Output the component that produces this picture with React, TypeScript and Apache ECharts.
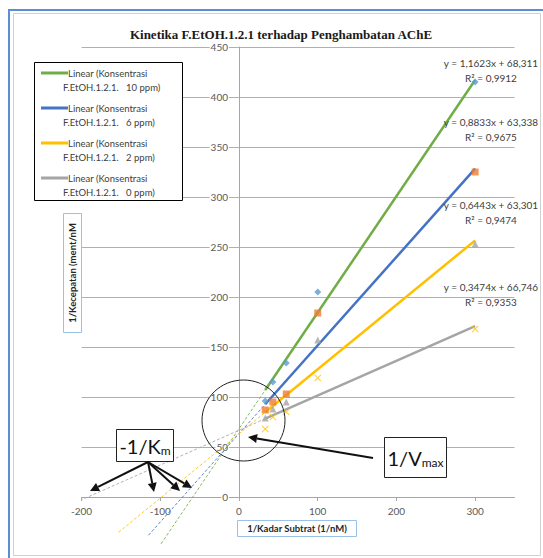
import React, { useEffect, useRef } from 'react';
import * as echarts from 'echarts';

// ---------- data ----------
const TITLE = 'Kinetika F.EtOH.1.2.1 terhadap Penghambatan AChE';
const X_TICKS = [-200, -100, 0, 100, 200, 300];
const SUBSTRATE_X = [33.3, 43, 60, 100, 300];
const VALUES_S1 = [96, 115, 134, 205, 415];
const VALUES_S2 = [87, 95, 103, 184, 325];
const VALUES_S3 = [79, 88, 95, 157, 253];
const VALUES_S4 = [68, 80, 85, 119, 168];
const CONC_LABELS = ['10 ppm', '6 ppm', '2 ppm', '0 ppm'];
const SLOPES = [1.1623, 0.8833, 0.6443, 0.3474];
const INTERCEPTS = [68.311, 63.338, 63.301, 66.746];
const FORECAST_START = [-99, -115, -153, -243];
const EQUATIONS = ['y = 1,1623x + 68,311', 'y = 0,8833x + 63,338', 'y = 0,6443x + 63,301', 'y = 0,3474x + 66,746'];
const R2_TEXT = ['R\u00b2 = 0,9912', 'R\u00b2 = 0,9675', 'R\u00b2 = 0,9474', 'R\u00b2 = 0,9353'];
const Y_NAME = '1/Kecepatan (ment/nM';
const X_NAME = '1/Kadar Subtrat (1/nM)';

// ---------- styles ----------
const TREND_COLORS = ['#70AD47', '#4472C4', '#FFC000', '#A5A5A5'];
const MARKER_COLORS = ['#5B9BD5', '#ED7D31', '#A5A5A5', '#FFC000'];
const X_SYMBOL = 'path://M1,0 L5,4 L9,0 L10,1 L6,5 L10,9 L9,10 L5,6 L1,10 L0,9 L4,5 L0,1 Z';
const MARKER_SYMBOLS = ['diamond', 'rect', 'triangle', X_SYMBOL];
const SANS = 'Lato, "Open Sans", sans-serif';
const GRID_LEFT = 81.6;
const GRID_RIGHT = 28.5;
const X_MIN = -200;
const X_MAX = 350;

function arrow(x1: number, y1: number, x2: number, y2: number) {
  const len = 9, half = 4.5;
  const a = Math.atan2(y2 - y1, x2 - x1);
  const bx = x2 - len * Math.cos(a), by = y2 - len * Math.sin(a);
  const px = -Math.sin(a) * half, py = Math.cos(a) * half;
  return [
    { type: 'line', z: 20, shape: { x1, y1, x2: bx, y2: by }, style: { stroke: '#111', lineWidth: 2 } },
    { type: 'polygon', z: 20, shape: { points: [[x2, y2], [bx + px, by + py], [bx - px, by - py]] }, style: { fill: '#111' } },
  ];
}

export default function App() {
  const ref = useRef<HTMLDivElement>(null);
  useEffect(() => {
    if (!ref.current) return;
    const chart = echarts.init(ref.current, undefined, { renderer: 'svg' });
    const allValues = [VALUES_S1, VALUES_S2, VALUES_S3, VALUES_S4];
    const lastX = SUBSTRATE_X[SUBSTRATE_X.length - 1];
    const firstX = SUBSTRATE_X[0];
    const f = (i: number, x: number) => SLOPES[i] * x + INTERCEPTS[i];
    const gridW = 543 - GRID_LEFT - GRID_RIGHT;
    const yAxisShift = (0 - X_MIN) / (X_MAX - X_MIN) * gridW;

    const series: any[] = [];
    SLOPES.forEach((_, i) => {
      series.push({
        type: 'line', name: 'Linear (Konsentrasi F.EtOH.1.2.1. ' + CONC_LABELS[i] + ')',
        data: [[firstX, f(i, firstX)], [lastX, f(i, lastX)]],
        showSymbol: false, symbol: 'none', z: 3,
        lineStyle: { color: TREND_COLORS[i], width: 2.5 },
      });
      series.push({
        type: 'line', clip: false,
        data: [[FORECAST_START[i], f(i, FORECAST_START[i])], [firstX, f(i, firstX)]],
        showSymbol: false, symbol: 'none', z: 2,
        lineStyle: { color: TREND_COLORS[i], width: 1, type: [3, 2], opacity: 0.85 },
      });
    });
    allValues.forEach((vals, i) => {
      series.push({
        type: 'scatter', z: 5,
        data: SUBSTRATE_X.map((x, k) => [x, vals[k]]),
        symbol: MARKER_SYMBOLS[i], symbolSize: 7,
        itemStyle: { color: MARKER_COLORS[i] },
      });
    });

    const legendTop = [73, 108, 143, 178];
    const legendEls: any[] = [
      { type: 'rect', z: 15, shape: { x: 34.5, y: 62.5, width: 148, height: 138 }, style: { fill: '#fff', stroke: '#000', lineWidth: 1 } },
    ];
    legendTop.forEach((y, i) => {
      legendEls.push({ type: 'line', z: 16, shape: { x1: 41, y1: y, x2: 68, y2: y }, style: { stroke: TREND_COLORS[i], lineWidth: 3 } });
      legendEls.push({ type: 'text', z: 16, x: 68, y, style: { text: 'Linear (Konsentrasi', fontSize: 9.5, fontFamily: SANS, fill: '#404040', align: 'left', verticalAlign: 'middle' } });
      legendEls.push({ type: 'text', z: 16, x: 63, y: y + 14, style: { text: 'F.EtOH.1.2.1.   ' + CONC_LABELS[i] + ')', fontSize: 9.5, fontFamily: SANS, fill: '#404040', align: 'left', verticalAlign: 'middle' } });
    });

    const eqY = [63, 122, 205, 287];
    const eqEls: any[] = [];
    eqY.forEach((y, i) => {
      eqEls.push({ type: 'text', z: 12, x: 491, y, style: { text: EQUATIONS[i], fontSize: 10, fontFamily: SANS, fill: '#404040', align: 'center', verticalAlign: 'middle' } });
      eqEls.push({ type: 'text', z: 12, x: 491, y: y + 15, style: { text: R2_TEXT[i], fontSize: 10, fontFamily: SANS, fill: '#404040', align: 'center', verticalAlign: 'middle' } });
    });

    const graphic: any[] = [
      // frame
      { type: 'rect', z: 0, shape: { x: 13.5, y: 13.5, width: 527, height: 542 }, style: { fill: 'none', stroke: '#D0D0D0', lineWidth: 1 } },
      { type: 'line', z: 0, shape: { x1: 8, y1: 10, x2: 543, y2: 10 }, style: { stroke: '#5B8FD4', lineWidth: 2 } },
      { type: 'line', z: 0, shape: { x1: 9, y1: 10, x2: 9, y2: 558 }, style: { stroke: '#5B8FD4', lineWidth: 2 } },
      ...legendEls,
      ...eqEls,
      // y axis name
      { type: 'rect', z: 12, shape: { x: 63.5, y: 213.5, width: 18, height: 119 }, style: { fill: '#fff', stroke: '#9BC2E6', lineWidth: 1 } },
      { type: 'text', z: 13, x: 72.5, y: 273, rotation: Math.PI / 2, style: { text: Y_NAME, fontSize: 9.5, fontWeight: 'bold', fontFamily: SANS, fill: '#262626', align: 'center', verticalAlign: 'middle' } },
      // x axis name
      { type: 'rect', z: 12, shape: { x: 237.5, y: 520.5, width: 119, height: 16 }, style: { fill: '#fff', stroke: '#9BC2E6', lineWidth: 1 } },
      { type: 'text', z: 13, x: 297, y: 528.5, style: { text: X_NAME, fontSize: 9.5, fontWeight: 'bold', fontFamily: SANS, fill: '#262626', align: 'center', verticalAlign: 'middle' } },
      // circle around intercept region
      { type: 'ellipse', z: 18, shape: { cx: 243.5, cy: 420.5, rx: 41.5, ry: 40.5 }, style: { fill: 'none', stroke: '#222', lineWidth: 1 } },
      // 1/Vmax box
      { type: 'rect', z: 18, shape: { x: 384.5, y: 437.5, width: 62, height: 40 }, style: { fill: '#fff', stroke: '#222', lineWidth: 1 } },
      { type: 'text', z: 19, x: 415.5, y: 458, style: { text: '{a|1/V}{b|max}', align: 'center', verticalAlign: 'middle', fill: '#111', fontFamily: SANS, rich: { a: { fontSize: 20, fontFamily: SANS, fill: '#111' }, b: { fontSize: 12, fontFamily: SANS, fill: '#111', padding: [8, 0, 0, 0] } } } },
      ...arrow(373, 458, 248, 437),
      // -1/Km box
      { type: 'rect', z: 18, shape: { x: 116.5, y: 429.5, width: 57, height: 32 }, style: { fill: '#fff', stroke: '#222', lineWidth: 1 } },
      { type: 'text', z: 19, x: 145, y: 446, style: { text: '{a|-1/K}{b|m}', align: 'center', verticalAlign: 'middle', fill: '#111', fontFamily: SANS, rich: { a: { fontSize: 20, fontFamily: SANS, fill: '#111' }, b: { fontSize: 12, fontFamily: SANS, fill: '#111', padding: [8, 0, 0, 0] } } } },
      ...arrow(148, 462, 90, 491),
      ...arrow(148, 462, 154, 492),
      ...arrow(148, 462, 180, 491),
      ...arrow(148, 462, 192, 488),
    ];

    chart.setOption({
      animation: false,
      backgroundColor: '#fff',
      title: {
        text: TITLE, left: 276, top: 23, textAlign: 'center',
        textStyle: { fontFamily: '"Liberation Serif", serif', fontWeight: 'bold', fontSize: 13, color: '#1a1a1a' },
      },
      grid: { left: GRID_LEFT, right: GRID_RIGHT, top: 47, bottom: 61 },
      xAxis: {
        type: 'value', min: X_MIN, max: X_MAX, interval: 100,
        axisLine: { onZero: true, lineStyle: { color: '#A6A6A6' } },
        axisTick: { show: true, length: 4, customValues: X_TICKS, lineStyle: { color: '#A6A6A6' } },
        axisLabel: { customValues: X_TICKS, margin: 9, fontSize: 10, fontFamily: SANS, color: '#595959' },
        splitLine: { show: false },
      },
      yAxis: {
        type: 'value', min: 0, max: 450, interval: 50,
        position: 'left', offset: -yAxisShift,
        axisLine: { show: true, onZero: false, lineStyle: { color: '#A6A6A6' } },
        axisTick: { show: false },
        axisLabel: { margin: 10, fontSize: 10, fontFamily: SANS, color: '#595959', backgroundColor: '#fff', padding: [0, 1] },
        splitLine: { show: true, lineStyle: { color: '#B0B0B0' } },
      },
      series,
      graphic,
    });
    return () => chart.dispose();
  }, []);
  return <div ref={ref} style={{ position: 'fixed', left: 0, top: 0, width: 543, height: 558, background: '#fff' }} />;
}
